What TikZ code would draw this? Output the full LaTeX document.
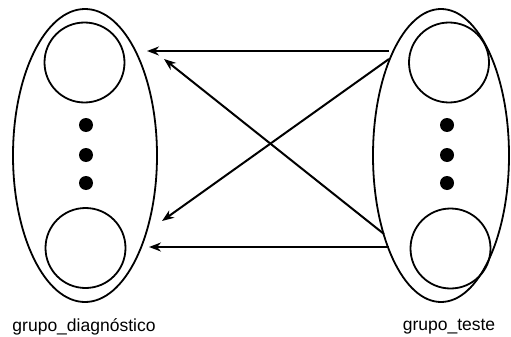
\documentclass[tikz,border=0pt]{standalone}
\usepackage{fontspec}
\setmainfont{Liberation Sans}
\usetikzlibrary{shapes.geometric,arrows.meta}
\begin{document}
\begin{tikzpicture}[x=1pt,y=-1pt,
  grp/.style={draw,ellipse,line width=1.8pt,inner sep=0pt},
  elem/.style={draw,circle,line width=1.8pt,minimum size=80pt,inner sep=0pt},
  dot/.style={fill=black,circle,minimum size=14pt,inner sep=0pt},
  link/.style={line width=2pt,-{Stealth[length=12pt,width=9pt]}},
  lbl/.style={font=\fontsize{17.5}{20}\selectfont,inner sep=0pt}]
\useasboundingbox (0,0) rectangle (511,337);
\node[grp,minimum width=144pt,minimum height=293pt] (L) at (85,155.5) {};
\node[grp,minimum width=136pt,minimum height=293pt] (R) at (441,155.5) {};
\node[elem] (L1) at (84.5,62.5) {};
\node[elem] (L2) at (85.5,248) {};
\node[elem] (R1) at (449,62.5) {};
\node[elem] (R2) at (450.5,248.5) {};
\node[dot] (Ld1) at (86,125) {};
\node[dot] (Ld2) at (86,155) {};
\node[dot] (Ld3) at (86,183) {};
\node[dot] (Rd1) at (447,125) {};
\node[dot] (Rd2) at (447,155) {};
\node[dot] (Rd3) at (447,183) {};
\coordinate (s1) at (389,51);
\coordinate (s2) at (389,59);
\coordinate (s3) at (384,234);
\coordinate (s4) at (389,247);
\coordinate (t1) at (147,51);
\coordinate (t2) at (162,221);
\coordinate (t3) at (164,59);
\coordinate (t4) at (149,247);
\draw[link] (s1) -- (t1);
\draw[link] (s2) -- (t2);
\draw[link] (s3) -- (t3);
\draw[link] (s4) -- (t4);
\node[lbl] (nL) at (84,327) {grupo\_diagnóstico};
\node[lbl] (nR) at (449,327) {grupo\_teste};
\end{tikzpicture}
\end{document}
